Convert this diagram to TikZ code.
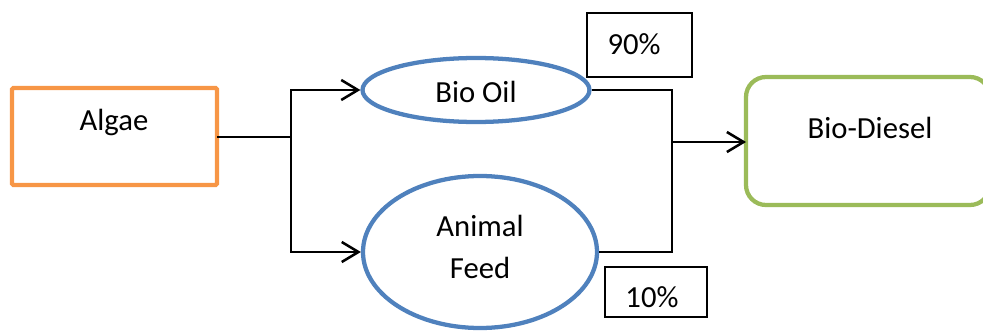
\documentclass[tikz,border=0pt]{standalone}
\usepackage{fontspec}
\setmainfont{Carlito}
\usetikzlibrary{shapes.geometric,arrows.meta}
\definecolor{orangeC}{HTML}{F79646}
\definecolor{blueC}{HTML}{4F81BD}
\definecolor{greenC}{HTML}{9BBB59}
\begin{document}
\begin{tikzpicture}[x=0.75pt,y=-0.75pt,
  lbl/.style={font=\fontsize{23}{28}\selectfont, inner sep=0pt, anchor=center},
  conn/.style={line width=1.9pt, draw=black},
  arr/.style={conn, -{Straight Barb[length=12.5pt,width=15pt,line width=1.9pt]}},
  pct/.style={draw=black, line width=0.8pt, fill=white}]
\useasboundingbox (0,0) rectangle (983,336);
% Algae
\draw[orangeC, line width=3.2pt, rounded corners=1pt] (12,88) rectangle (217,185);
\node[lbl] (algae) at (114,122) {Algae};
\coordinate (algaeR) at (217,137);
% Bio Oil
\node[draw=blueC, line width=3.2pt, ellipse, minimum width=227*0.75pt, minimum height=64*0.75pt, inner sep=0pt] (oil) at (476,90) {};
\node[lbl] at (476,92) {Bio Oil};
% Animal Feed
\node[draw=blueC, line width=3.2pt, ellipse, minimum width=234*0.75pt, minimum height=152*0.75pt, inner sep=0pt] (feed) at (480,252) {};
\node[lbl] at (480,226) {Animal};
\node[lbl] at (480,268) {Feed};
% Bio-Diesel
\draw[greenC, line width=3.2pt, rounded corners=15pt] (746,77) rectangle (990,205);
\node[lbl] (diesel) at (870,128) {Bio-Diesel};
\coordinate (dieselL) at (746,142);
% percentages
\node[pct, minimum width=105*0.75pt, minimum height=64*0.75pt, inner sep=0pt] (p90) at (639.5,45) {};
\node[lbl] at (634,44) {90\%};
\node[pct, minimum width=102*0.75pt, minimum height=50*0.75pt, inner sep=0pt] (p10) at (656,292) {};
\node[lbl] at (652,297) {10\%};
% connectors
\coordinate (split) at (291,137);
\draw[conn] (algaeR) -- (split);
\draw[arr] (split) |- (oil.west);
\draw[arr] (split) |- (feed.west);
\coordinate (join) at (672,142);
\draw[conn] (oil.east) -| (join);
\draw[conn] (feed.east) -| (join);
\draw[arr] (join) -- (dieselL);
\end{tikzpicture}
\end{document}
